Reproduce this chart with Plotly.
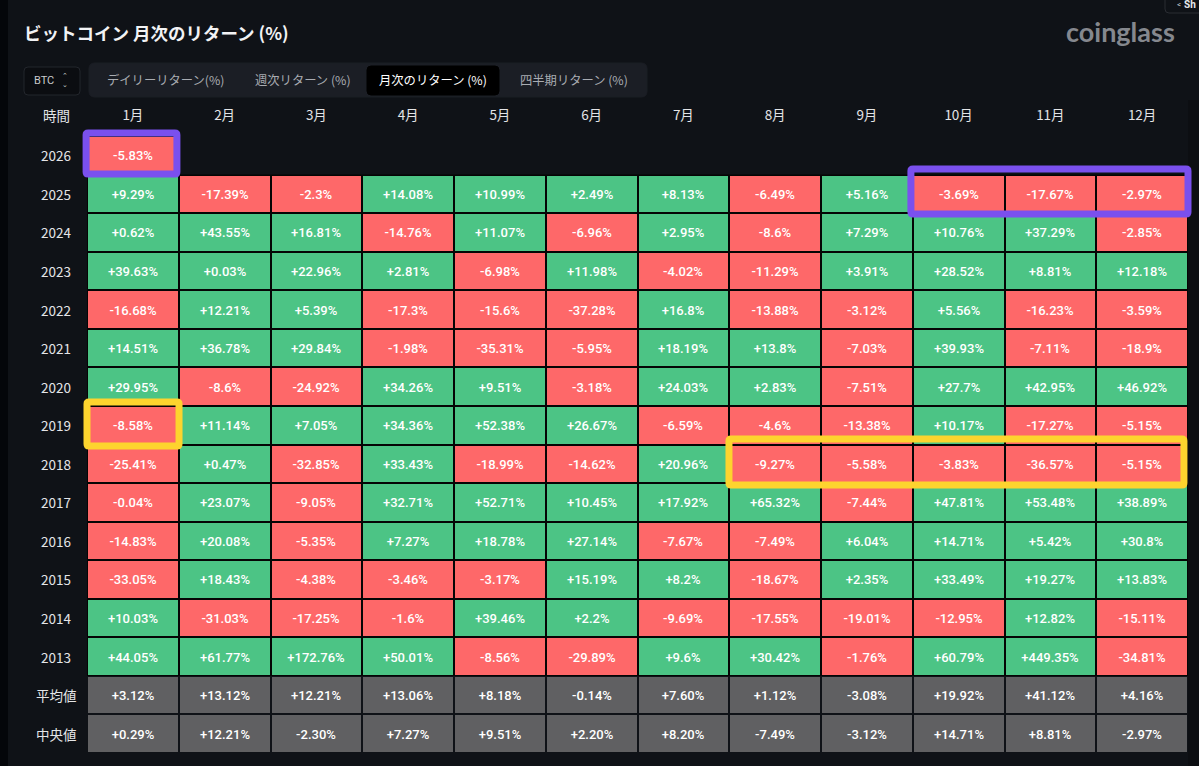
import plotly.graph_objects as go

months = ['1月', '2月', '3月', '4月', '5月', '6月', '7月', '8月', '9月', '10月', '11月', '12月']
rows = ['2026', '2025', '2024', '2023', '2022', '2021', '2020', '2019', '2018', '2017', '2016', '2015', '2014', '2013', '平均値', '中央値']

r2026 = ['-5.83%'] + [''] * 11
r2025 = ['+9.29%', '-17.39%', '-2.3%', '+14.08%', '+10.99%', '+2.49%', '+8.13%', '-6.49%', '+5.16%', '-3.69%', '-17.67%', '-2.97%']
r2024 = ['+0.62%', '+43.55%', '+16.81%', '-14.76%', '+11.07%', '-6.96%', '+2.95%', '-8.6%', '+7.29%', '+10.76%', '+37.29%', '-2.85%']
r2023 = ['+39.63%', '+0.03%', '+22.96%', '+2.81%', '-6.98%', '+11.98%', '-4.02%', '-11.29%', '+3.91%', '+28.52%', '+8.81%', '+12.18%']
r2022 = ['-16.68%', '+12.21%', '+5.39%', '-17.3%', '-15.6%', '-37.28%', '+16.8%', '-13.88%', '-3.12%', '+5.56%', '-16.23%', '-3.59%']
r2021 = ['+14.51%', '+36.78%', '+29.84%', '-1.98%', '-35.31%', '-5.95%', '+18.19%', '+13.8%', '-7.03%', '+39.93%', '-7.11%', '-18.9%']
r2020 = ['+29.95%', '-8.6%', '-24.92%', '+34.26%', '+9.51%', '-3.18%', '+24.03%', '+2.83%', '-7.51%', '+27.7%', '+42.95%', '+46.92%']
r2019 = ['-8.58%', '+11.14%', '+7.05%', '+34.36%', '+52.38%', '+26.67%', '-6.59%', '-4.6%', '-13.38%', '+10.17%', '-17.27%', '-5.15%']
r2018 = ['-25.41%', '+0.47%', '-32.85%', '+33.43%', '-18.99%', '-14.62%', '+20.96%', '-9.27%', '-5.58%', '-3.83%', '-36.57%', '-5.15%']
r2017 = ['-0.04%', '+23.07%', '-9.05%', '+32.71%', '+52.71%', '+10.45%', '+17.92%', '+65.32%', '-7.44%', '+47.81%', '+53.48%', '+38.89%']
r2016 = ['-14.83%', '+20.08%', '-5.35%', '+7.27%', '+18.78%', '+27.14%', '-7.67%', '-7.49%', '+6.04%', '+14.71%', '+5.42%', '+30.8%']
r2015 = ['-33.05%', '+18.43%', '-4.38%', '-3.46%', '-3.17%', '+15.19%', '+8.2%', '-18.67%', '+2.35%', '+33.49%', '+19.27%', '+13.83%']
r2014 = ['+10.03%', '-31.03%', '-17.25%', '-1.6%', '+39.46%', '+2.2%', '-9.69%', '-17.55%', '-19.01%', '-12.95%', '+12.82%', '-15.11%']
r2013 = ['+44.05%', '+61.77%', '+172.76%', '+50.01%', '-8.56%', '-29.89%', '+9.6%', '+30.42%', '-1.76%', '+60.79%', '+449.35%', '-34.81%']
mean_row = ['+3.12%', '+13.12%', '+12.21%', '+13.06%', '+8.18%', '-0.14%', '+7.60%', '+1.12%', '-3.08%', '+19.92%', '+41.12%', '+4.16%']
median_row = ['+0.29%', '+12.21%', '-2.30%', '+7.27%', '+9.51%', '+2.20%', '+8.20%', '-7.49%', '-3.12%', '+14.71%', '+8.81%', '-2.97%']

tabs = ['デイリーリターン(%)', '週次リターン (%)', '月次のリターン (%)', '四半期リターン (%)']

BG = '#0f1217'
GREEN = '#4cc485'
RED = '#fe6869'
GREY = '#606062'
PURPLE = '#7a50ee'
YELLOW = '#fdd42e'

W, H = 1199, 766
L, R, T, B = 87, 11, 136, 13

year_rows = [r2026, r2025, r2024, r2023, r2022, r2021, r2020, r2019, r2018, r2017, r2016, r2015, r2014, r2013]
text = year_rows + [mean_row, median_row]


def code(s):
    if s == '':
        return None
    return 1 if s[0] == '+' else 0


z = [[code(s) for s in r] for r in year_rows] + [[2] * 12, [2] * 12]
col_pos = list(range(len(months)))
row_pos = list(range(len(rows)))

fig = go.Figure(go.Heatmap(
    z=z, x=col_pos, y=row_pos, text=text, texttemplate='%{text}',
    textfont=dict(family='Roboto', size=13, color='#ffffff', weight=500),
    colorscale=[[0, RED], [0.5, GREEN], [1, GREY]], zmin=0, zmax=2,
    showscale=False, xgap=2, ygap=2, hoverinfo='text'
))


def px(x):
    return (x - L) / (W - L - R)


def py(y):
    return 1 - (y - T) / (H - T - B)


def round_box(x0, y0, x1, y1, r, fill, line=None, width=1, layer='below'):
    # rounded rectangle given in page pixels
    path = (f'M {px(x0 + r)} {py(y0)} L {px(x1 - r)} {py(y0)} Q {px(x1)} {py(y0)} {px(x1)} {py(y0 + r)} '
            f'L {px(x1)} {py(y1 - r)} Q {px(x1)} {py(y1)} {px(x1 - r)} {py(y1)} '
            f'L {px(x0 + r)} {py(y1)} Q {px(x0)} {py(y1)} {px(x0)} {py(y1 - r)} '
            f'L {px(x0)} {py(y0 + r)} Q {px(x0)} {py(y0)} {px(x0 + r)} {py(y0)} Z')
    return dict(type='path', xref='paper', yref='paper', path=path, fillcolor=fill,
                line=dict(color=line or fill, width=width), layer=layer)


def label(x, y, s, size, color, anchor='center', family='Noto Sans CJK JP', weight=None):
    fig.add_annotation(xref='paper', yref='paper', x=px(x), y=py(y), text=s, showarrow=False,
                       xanchor=anchor, yanchor='middle',
                       font=dict(family=family, size=size, color=color, weight=weight))


def highlight(c0, c1, r0, r1, color):
    # box around cells, in cell units, not clipped by the plot area
    pitch_x = (W - L - R) / len(months)
    pitch_y = (H - T - B) / len(rows)
    return round_box(L + (c0 + 0.5) * pitch_x, T + (r0 + 0.5) * pitch_y,
                     L + (c1 + 0.5) * pitch_x, T + (r1 + 0.5) * pitch_y,
                     2, 'rgba(0,0,0,0)', color, 7, 'above')


shapes = [
    dict(type='rect', xref='paper', yref='paper', x0=px(0), x1=px(8), y0=py(0), y1=py(H),
         fillcolor='#04060a', line_width=0, layer='below'),
    dict(type='rect', xref='paper', yref='paper', x0=px(1188), x1=px(W), y0=py(100), y1=py(H),
         fillcolor='#0c0e12', line_width=0, layer='below'),
    # black lines between the cells
    dict(type='rect', xref='x', yref='y', x0=-0.5, x1=11.5, y0=0.5, y1=13.5,
         fillcolor='#050505', line_width=0, layer='below'),
    round_box(24, 67, 80, 95, 4, '#0b0d11', '#23262c'),
    round_box(89, 63, 647, 97, 6, '#1b1e25'),
    round_box(367, 66, 499, 95, 4, '#000000'),
    round_box(1165, -8, 1205, 13, 4, BG, '#2a2d33'),
    highlight(-0.51, 0.48, -0.58, 0.485, PURPLE),
    highlight(8.48, 11.5, 0.356, 1.52, PURPLE),
    highlight(-0.5, 0.503, 6.40, 7.54, YELLOW),
    highlight(6.497, 11.456, 7.358, 8.55, YELLOW),
]
fig.update_layout(shapes=shapes)

label(22, 32, 'ビットコイン 月次のリターン (%)', 17.5, '#f2f3f5', 'left', weight='bold')
label(1120, 31, 'coinglass', 27, '#85888e', family='Lato', weight='bold')
label(1179, 4, '<', 8, '#c8cacd', family='Roboto')
label(1182, 4, 'Sh', 10, '#e8e9eb', 'left', family='Roboto', weight='bold')
label(44, 80, 'BTC', 11, '#c8cacd', family='Roboto')
label(65, 80, '⌃<br>⌄', 7, '#c8cacd', family='DejaVu Sans')
for s, xc, col in zip(tabs, [165, 303, 433, 574], ['#a9acb2', '#a9acb2', '#ffffff', '#a9acb2']):
    label(xc, 80, s, 12.3, col)

label(56, 115, '時間', 13.5, '#e4e5e7')
for i, s in zip(row_pos, rows):
    fig.add_annotation(xref='paper', yref='y', x=0, y=i, xshift=-31, text=s, showarrow=False,
                       xanchor='center', yanchor='middle',
                       font=dict(family='Noto Sans CJK JP', size=13.5, color='#e4e5e7'))

fig.update_xaxes(side='top', range=[-0.5, 11.5], tickmode='array', tickvals=col_pos, ticktext=months,
                 showgrid=False, zeroline=False, showline=False, ticks='',
                 ticklabelstandoff=12, tickfont=dict(family='Noto Sans CJK JP', size=13.5, color='#e4e5e7'))
fig.update_yaxes(range=[15.5, -0.5], showgrid=False, zeroline=False, showline=False,
                 ticks='', showticklabels=False)
fig.update_layout(width=W, height=H, margin=dict(l=L, r=R, t=T, b=B, pad=0),
                  paper_bgcolor=BG, plot_bgcolor=BG, showlegend=False)

fig.write_html('out.html', config=dict(displayModeBar=False),
               post_script="document.body.style.margin='0';document.body.style.background='" + BG + "';")
